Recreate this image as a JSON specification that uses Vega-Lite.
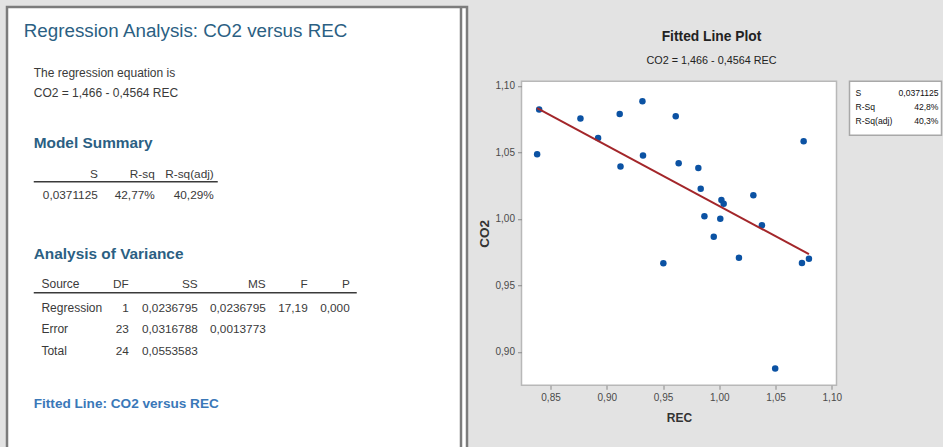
{
  "$schema": "https://vega.github.io/schema/vega-lite/v6.json",
  "background": "#e3e3e3",
  "padding": {"left": 5, "top": 5, "right": 0, "bottom": 0},
  "datasets": {
    "pts": [
      {"REC": 0.8399, "CO2": 1.0822}, {"REC": 0.8381, "CO2": 1.0486},
      {"REC": 0.8766, "CO2": 1.0755}, {"REC": 0.8923, "CO2": 1.0608},
      {"REC": 0.9115, "CO2": 1.0789}, {"REC": 0.9122, "CO2": 1.0393},
      {"REC": 0.9317, "CO2": 1.0885}, {"REC": 0.9322, "CO2": 1.0476},
      {"REC": 0.9613, "CO2": 1.0772}, {"REC": 0.9639, "CO2": 1.0418},
      {"REC": 0.9814, "CO2": 1.0383}, {"REC": 0.9835, "CO2": 1.0227},
      {"REC": 0.9868, "CO2": 1.0019}, {"REC": 0.9951, "CO2": 0.9866},
      {"REC": 0.9503, "CO2": 0.9665}, {"REC": 1.0009, "CO2": 1.0000},
      {"REC": 1.0019, "CO2": 1.0142}, {"REC": 1.0039, "CO2": 1.0114},
      {"REC": 1.0175, "CO2": 0.9708}, {"REC": 1.0303, "CO2": 1.0177},
      {"REC": 1.0379, "CO2": 0.9951}, {"REC": 1.0750, "CO2": 1.0584},
      {"REC": 1.0735, "CO2": 0.9667}, {"REC": 1.0797, "CO2": 0.9700},
      {"REC": 1.0497, "CO2": 0.8874}
    ],
    "doc": [
      {"line": 1, "col": 0, "role": "title", "text": "Regression Analysis: CO2 versus REC"},
      {"line": 2, "col": 1, "role": "text", "text": "The regression equation is"},
      {"line": 3, "col": 1, "role": "text", "text": "CO2 = 1,466 - 0,4564 REC"},
      {"line": 4, "col": 1, "role": "head", "text": "Model Summary"},
      {"line": 5, "col": 3, "role": "colhead", "text": "S"},
      {"line": 5, "col": 5, "role": "colhead", "text": "R-sq"},
      {"line": 5, "col": 7, "role": "colhead", "text": "R-sq(adj)"},
      {"line": 7, "col": 3, "role": "cell", "text": "0,0371125"},
      {"line": 7, "col": 5, "role": "cell", "text": "42,77%"},
      {"line": 7, "col": 7, "role": "cell", "text": "40,29%"},
      {"line": 8, "col": 1, "role": "head", "text": "Analysis of Variance"},
      {"line": 9, "col": 2, "role": "rowhead", "text": "Source"},
      {"line": 9, "col": 4, "role": "colhead", "text": "DF"},
      {"line": 9, "col": 6, "role": "colhead", "text": "SS"},
      {"line": 9, "col": 9, "role": "colhead", "text": "MS"},
      {"line": 9, "col": 10, "role": "colhead", "text": "F"},
      {"line": 9, "col": 11, "role": "colhead", "text": "P"},
      {"line": 11, "col": 2, "role": "rowlabel", "text": "Regression"},
      {"line": 11, "col": 4, "role": "cell", "text": "1"},
      {"line": 11, "col": 6, "role": "cell", "text": "0,0236795"},
      {"line": 11, "col": 9, "role": "cell", "text": "0,0236795"},
      {"line": 11, "col": 10, "role": "cell", "text": "17,19"},
      {"line": 11, "col": 11, "role": "cell", "text": "0,000"},
      {"line": 12, "col": 2, "role": "rowlabel", "text": "Error"},
      {"line": 12, "col": 4, "role": "cell", "text": "23"},
      {"line": 12, "col": 6, "role": "cell", "text": "0,0316788"},
      {"line": 12, "col": 9, "role": "cell", "text": "0,0013773"},
      {"line": 13, "col": 2, "role": "rowlabel", "text": "Total"},
      {"line": 13, "col": 4, "role": "cell", "text": "24"},
      {"line": 13, "col": 6, "role": "cell", "text": "0,0553583"},
      {"line": 14, "col": 1, "role": "link", "text": "Fitted Line: CO2 versus REC"}
    ],
    "rules": [
      {"line": 6, "col": 1, "col2": 8},
      {"line": 10, "col": 1, "col2": 12}
    ],
    "heading": [
      {"kind": "title", "text": "Fitted Line Plot"},
      {"kind": "subtitle", "text": "CO2 = 1,466 - 0,4564 REC"}
    ],
    "stats": [
      {"stat": "S", "part": "name", "label": "S"},
      {"stat": "S", "part": "value", "label": "0,0371125"},
      {"stat": "R-Sq", "part": "name", "label": "R-Sq"},
      {"stat": "R-Sq", "part": "value", "label": "42,8%"},
      {"stat": "R-Sq(adj)", "part": "name", "label": "R-Sq(adj)"},
      {"stat": "R-Sq(adj)", "part": "value", "label": "40,3%"}
    ]
  },
  "spacing": 6.5,
  "hconcat": [
    {
      "width": 460,
      "height": 445,
      "view": {"fill": "white", "stroke": "#7c7c7c", "strokeWidth": 2.5},
      "encoding": {
        "x": {"field": "col", "type": "quantitative", "axis": null,
              "scale": {"domain": [0,1,2,3,4,5,6,7,8,9,10,11,12], "range": [16.75,26.75,34.45,90.75,121.75,147.75,190.75,206.75,210.75,258.75,300.75,342.75,349.75], "nice": false, "zero": false}},
        "y": {"field": "line", "type": "quantitative",
              "axis": {"orient": "right", "offset": -6.5, "domain": true, "domainColor": "#7c7c7c", "domainWidth": 2.5, "ticks": false, "labels": false, "title": null, "grid": false},
              "scale": {"domain": [0,1,2,3,4,5,6,7,8,9,10,11,12,13,14,15], "range": [0,23.75,65.75,85.75,135.75,166.75,174.75,187.75,247.05,277.05,285.75,301.05,322.05,343.75,397.05,445], "nice": false, "zero": false}}
      },
      "layer": [
        {
          "data": {"name": "doc"},
          "transform": [{"filter": "datum.role == 'title'"}],
          "mark": {"type": "text", "align": "left", "baseline": "middle", "font": "Liberation Sans", "fontSize": 18.8, "color": "#2b5f83"},
          "encoding": {"text": {"field": "text"}}
        },
        {
          "data": {"name": "doc"},
          "transform": [{"filter": "datum.role == 'head'"}],
          "mark": {"type": "text", "align": "left", "baseline": "middle", "font": "Liberation Sans", "fontSize": 15.4, "fontWeight": "bold", "color": "#2b5f83"},
          "encoding": {"text": {"field": "text"}}
        },
        {
          "data": {"name": "doc"},
          "transform": [{"filter": "datum.role == 'link'"}],
          "mark": {"type": "text", "align": "left", "baseline": "middle", "font": "Liberation Sans", "fontSize": 13.6, "fontWeight": "bold", "color": "#3a78b8"},
          "encoding": {"text": {"field": "text"}}
        },
        {
          "data": {"name": "doc"},
          "transform": [{"filter": "datum.role == 'text' || datum.role == 'rowlabel' || datum.role == 'rowhead'"}],
          "mark": {"type": "text", "align": "left", "baseline": "middle", "font": "Liberation Sans", "fontSize": 12, "color": "#3a3a3a"},
          "encoding": {"text": {"field": "text"}}
        },
        {
          "data": {"name": "doc"},
          "transform": [{"filter": "datum.role == 'cell' || datum.role == 'colhead'"}],
          "mark": {"type": "text", "align": "right", "baseline": "middle", "font": "Liberation Sans", "fontSize": 11.8, "color": "#3a3a3a"},
          "encoding": {"text": {"field": "text"}}
        },
        {
          "data": {"name": "rules"},
          "mark": {"type": "rule", "color": "#3a3a3a", "strokeWidth": 1.5},
          "encoding": {"x2": {"field": "col2"}}
        }
      ]
    },
    {
      "spacing": 2.25,
      "vconcat": [
        {
          "width": 380,
          "height": 70,
          "view": {"stroke": null, "fill": null},
          "data": {"name": "heading"},
          "encoding": {
            "y": {"field": "kind", "type": "nominal", "axis": null,
                  "scale": {"type": "point", "domain": ["title", "subtitle"], "range": [29.75, 54.45], "padding": 0}},
            "text": {"field": "text"}
          },
          "layer": [
            {
              "transform": [{"filter": "datum.kind == 'title'"}],
              "mark": {"type": "text", "align": "center", "baseline": "middle", "font": "Liberation Sans", "fontSize": 13.8, "fontWeight": "bold", "color": "#222222"}
            },
            {
              "transform": [{"filter": "datum.kind == 'subtitle'"}],
              "mark": {"type": "text", "align": "center", "baseline": "middle", "font": "Liberation Sans", "fontSize": 10.8, "color": "#222222"}
            }
          ]
        },
        {
          "spacing": 6,
          "hconcat": [
            {
              "width": 315,
              "height": 304,
              "view": {"fill": "white", "stroke": "#b8b8b8", "strokeWidth": 1.5},
              "data": {"name": "pts"},
              "encoding": {
                "x": {"field": "REC", "type": "quantitative",
                      "scale": {"domain": [0.8242, 1.1042], "nice": false, "zero": false},
                      "axis": {"values": [0.85, 0.9, 0.95, 1.0, 1.05, 1.1], "labelExpr": "replace(format(datum.value, '.2f'), '.', ',')",
                               "grid": false, "domain": false, "tickSize": 4, "tickColor": "#8a8a8a", "labelOverlap": false, "labelFlush": false,
                               "labelFont": "Liberation Sans", "labelFontSize": 10, "labelColor": "#4a4a4a", "labelPadding": 3,
                               "title": "REC", "titleFont": "Liberation Sans", "titleFontSize": 12, "titleFontWeight": "bold", "titleColor": "#333333", "titlePadding": 10}},
                "y": {"field": "CO2", "type": "quantitative",
                      "scale": {"domain": [0.8748, 1.1035], "nice": false, "zero": false},
                      "axis": {"values": [0.9, 0.95, 1.0, 1.05, 1.1], "labelExpr": "replace(format(datum.value, '.2f'), '.', ',')",
                               "grid": false, "domain": false, "tickSize": 4, "tickColor": "#8a8a8a", "labelOverlap": false, "labelFlush": false,
                               "labelFont": "Liberation Sans", "labelFontSize": 10, "labelColor": "#4a4a4a", "labelPadding": 3,
                               "title": "CO2", "titleFont": "Liberation Sans", "titleFontSize": 13.5, "titleFontWeight": "bold", "titleColor": "#333333", "titlePadding": 4}}
              },
              "layer": [
                {
                  "mark": {"type": "circle", "size": 42, "color": "#0b52a3", "opacity": 1}
                },
                {
                  "transform": [{"regression": "CO2", "on": "REC"}],
                  "mark": {"type": "line", "color": "#a3262a", "strokeWidth": 2}
                }
              ]
            },
            {
              "width": 92,
              "height": 54,
              "view": {"fill": "white", "stroke": "#a8a8a8", "strokeWidth": 1.5},
              "data": {"name": "stats"},
              "encoding": {
                "x": {"field": "part", "type": "nominal", "axis": null,
                      "scale": {"type": "point", "domain": ["name", "value"], "range": [6, 89], "padding": 0}},
                "y": {"field": "stat", "type": "nominal", "axis": null,
                      "scale": {"type": "point", "domain": ["S", "R-Sq", "R-Sq(adj)"], "range": [12, 39.5], "padding": 0}},
                "text": {"field": "label"}
              },
              "layer": [
                {
                  "transform": [{"filter": "datum.part == 'name'"}],
                  "mark": {"type": "text", "align": "left", "baseline": "middle", "font": "Liberation Sans", "fontSize": 8.6, "color": "#111111"}
                },
                {
                  "transform": [{"filter": "datum.part == 'value'"}],
                  "mark": {"type": "text", "align": "right", "baseline": "middle", "font": "Liberation Sans", "fontSize": 8.6, "color": "#111111"}
                }
              ]
            }
          ]
        }
      ]
    }
  ]
}
